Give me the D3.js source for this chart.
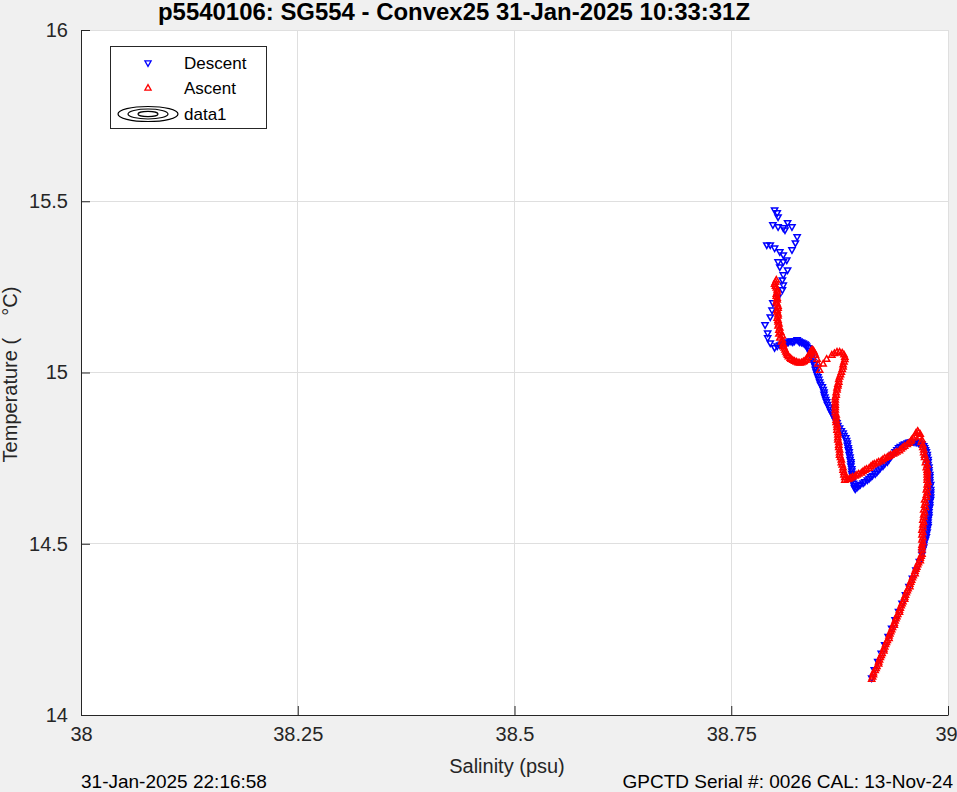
<!DOCTYPE html>
<html><head><meta charset="utf-8">
<script src="https://cdn.jsdelivr.net/npm/d3@7"></script>
<style>
body{margin:0;background:#f0f0f0;}
svg{display:block;font-family:"Liberation Sans",Arial,Helvetica,sans-serif;}
</style>
</head><body>
<svg id="chart" width="957" height="792"></svg>
<script>
// ---- data ----
const descentSal = [
38.800,38.803,38.804,38.798,38.804,38.810,38.815,38.820,38.812,38.826,38.824,38.820,
38.791,38.795,38.800,38.806,38.810,38.804,38.810,38.814,38.806,38.815,38.810,38.809,
38.810,38.809,38.804,38.798,38.797,38.795,38.789,38.792,38.792,38.795,38.800,38.806,
38.811,38.814,38.818,38.821,38.826,38.829,38.833,38.836,38.839,38.841,38.843,38.844,
38.847,38.848,38.850,38.852,38.855,38.857,38.858,38.860,38.863,38.865,38.869,38.872,
38.875,38.879,38.882,38.884,38.885,38.886,38.887,38.888,38.888,38.889,38.890,38.890,
38.892,38.893,38.897,38.902,38.907,38.911,38.916,38.920,38.925,38.930,38.934,38.939,
38.943,38.948,38.953,38.957,38.962,38.966,38.970,38.973,38.975,38.976,38.977,38.978,
38.978,38.979,38.979,38.979,38.980,38.980,38.979,38.979,38.978,38.978,38.977,38.977,
38.976,38.975,38.973,38.972,38.970,
38.803,38.808,38.812,38.816,38.820,38.823,38.828,38.831,38.835,38.837,
38.840,38.842,38.844,38.846,38.847,38.849,38.851,38.853,38.856,38.857,38.859,38.861,
38.864,38.867,38.870,38.873,38.877,38.880,38.883,38.884,38.885,38.886,38.887,38.888,
38.889,38.889,38.890,38.891,38.892,38.895,38.899,38.904,38.909,38.913,38.918,38.922,
38.927,38.932,38.936,38.941,38.945,38.950,38.955,38.960,38.964,38.968,38.972,38.974,
38.976,38.977,38.977,38.978,38.979,38.979,38.980,38.980,38.980,38.980,38.979,38.978,
38.978,38.977,38.977,38.976,38.975,38.974,38.972,38.971,
38.970,38.967,38.963,38.959,38.955,38.951,38.947,38.943,38.939,38.935,38.931,38.927,
38.923,38.919,38.915,38.912
];
const descentTemp = [
15.474,15.466,15.454,15.431,15.425,15.422,15.437,15.425,15.416,15.396,15.378,15.358,
15.372,15.372,15.363,15.352,15.343,15.323,15.323,15.328,15.308,15.299,15.285,15.270,
15.255,15.241,15.220,15.203,15.182,15.162,15.139,15.115,15.101,15.086,15.072,15.080,
15.083,15.086,15.092,15.089,15.095,15.089,15.086,15.080,15.072,15.057,15.045,15.031,
15.016,15.001,14.987,14.972,14.958,14.943,14.928,14.914,14.899,14.885,14.867,14.853,
14.838,14.823,14.809,14.794,14.780,14.768,14.753,14.739,14.727,14.712,14.698,14.683,
14.669,14.660,14.669,14.677,14.686,14.695,14.704,14.715,14.727,14.739,14.753,14.768,
14.780,14.788,14.794,14.797,14.797,14.794,14.791,14.780,14.768,14.753,14.739,14.724,
14.709,14.695,14.680,14.666,14.651,14.636,14.622,14.607,14.593,14.578,14.563,14.549,
14.534,14.520,14.505,14.490,14.476,
15.077,15.082,15.085,15.089,15.091,15.092,15.092,15.088,15.083,15.076,
15.065,15.051,15.038,15.023,15.009,14.994,14.980,14.965,14.950,14.936,14.921,14.906,
14.892,14.876,14.860,14.845,14.830,14.816,14.801,14.787,14.774,14.760,14.746,14.733,
14.719,14.705,14.690,14.676,14.664,14.664,14.673,14.681,14.690,14.699,14.709,14.721,
14.733,14.746,14.760,14.774,14.784,14.791,14.796,14.798,14.796,14.793,14.786,14.774,
14.760,14.746,14.731,14.716,14.702,14.687,14.673,14.658,14.644,14.629,14.614,14.600,
14.585,14.570,14.556,14.541,14.527,14.512,14.497,14.483,
14.468,14.448,14.423,14.399,14.375,14.351,14.326,14.302,14.278,14.253,14.229,14.205,
14.180,14.156,14.132,14.108
];
const ascentSal = [
38.912,38.914,38.916,38.918,38.920,38.922,38.924,38.926,38.928,38.930,38.932,38.934,
38.936,38.938,38.940,38.942,38.944,38.946,38.948,38.950,38.952,38.954,38.956,38.958,
38.960,38.962,38.964,38.966,38.968,38.970,
38.970,38.970,38.970,38.970,38.970,38.971,38.971,38.972,38.972,38.973,38.973,38.975,
38.975,38.976,38.976,38.976,38.976,38.976,38.975,38.973,38.972,38.971,38.970,38.968,
38.965,38.962,38.958,38.955,38.950,38.946,38.941,38.937,38.932,38.927,38.923,38.918,
38.913,38.909,38.904,38.900,38.895,38.890,38.886,38.881,38.880,38.879,38.878,38.877,
38.875,38.875,38.874,38.873,38.873,38.872,38.872,38.871,38.871,38.870,38.870,38.870,
38.871,38.872,38.873,38.874,38.875,38.877,38.879,38.880,38.881,38.878,38.872,38.866,
38.860,38.856,38.852,38.850,38.849,38.847,38.845,38.843,38.841,38.839,38.836,38.833,
38.829,38.825,38.821,38.818,38.815,38.813,38.811,38.810,38.809,38.809,38.807,38.806,
38.805,38.804,38.804,38.803,38.804,38.803,38.803,38.802,38.803,38.802,38.800,38.802,
38.913,38.914,38.917,38.920,38.921,38.923,38.926,38.927,38.929,38.932,38.933,38.935,
38.938,38.939,38.941,38.944,38.945,38.947,38.950,38.951,38.953,38.956,38.957,38.959,
38.962,38.963,38.965,38.968,38.969,
38.970,38.971,38.971,38.971,38.971,38.972,38.972,38.973,38.974,38.974,38.975,38.976,
38.976,38.977,38.976,38.976,38.975,38.974,38.973,38.972,38.971,38.969,38.967,
38.884,38.888,38.893,38.897,38.902,38.906,38.911,38.915,38.920,38.925,38.930,38.934,
38.939,38.944,38.948,38.953,38.957,38.960,38.963,38.966,
38.881,38.880,38.879,38.877,38.876,38.875,38.874,38.874,38.873,38.873,38.872,38.871,
38.871,38.870,38.870,38.870,38.870,38.871,38.872,38.873,38.874,38.876,38.878,38.879,
38.881,38.880,38.875,38.869,
38.846,38.844,38.842,38.840,38.837,38.834,38.831,38.827,38.823,38.819,38.816,38.814,
38.812,38.810,38.808,38.806,38.805,38.805,38.804,38.804,38.803,38.804,38.803,38.804,
38.802,38.803,38.802,38.803,38.801,38.801
];
const ascentTemp = [
14.105,14.118,14.130,14.142,14.155,14.168,14.180,14.193,14.206,14.218,14.231,14.243,
14.256,14.268,14.281,14.294,14.306,14.319,14.331,14.344,14.357,14.369,14.382,14.394,
14.407,14.420,14.432,14.445,14.458,14.470,
14.482,14.496,14.511,14.526,14.540,14.555,14.569,14.584,14.599,14.613,14.628,14.642,
14.657,14.672,14.686,14.701,14.715,14.730,14.745,14.759,14.774,14.788,14.803,14.820,
14.829,14.815,14.803,14.794,14.785,14.777,14.768,14.762,14.756,14.750,14.742,14.736,
14.730,14.721,14.715,14.707,14.701,14.695,14.689,14.686,14.701,14.715,14.730,14.745,
14.759,14.774,14.788,14.803,14.818,14.832,14.847,14.861,14.876,14.891,14.905,14.920,
14.934,14.949,14.961,14.972,14.987,15.001,15.016,15.031,15.045,15.057,15.060,15.051,
15.039,15.025,15.007,15.025,15.039,15.051,15.063,15.066,15.057,15.045,15.036,15.031,
15.028,15.031,15.036,15.042,15.051,15.060,15.072,15.083,15.095,15.107,15.118,15.130,
15.142,15.153,15.165,15.177,15.188,15.200,15.212,15.223,15.235,15.247,15.258,15.270,
14.111,14.124,14.136,14.149,14.161,14.174,14.187,14.199,14.212,14.224,14.237,14.249,
14.262,14.275,14.287,14.300,14.312,14.325,14.338,14.350,14.363,14.375,14.388,14.401,
14.413,14.426,14.439,14.451,14.464,
14.489,14.503,14.518,14.533,14.547,14.562,14.577,14.591,14.606,14.620,14.635,14.650,
14.664,14.679,14.693,14.708,14.722,14.737,14.752,14.766,14.781,14.796,14.812,
14.688,14.692,14.698,14.704,14.711,14.718,14.726,14.733,14.739,14.746,14.753,14.759,
14.765,14.772,14.781,14.790,14.799,14.809,14.823,14.824,
14.694,14.708,14.722,14.737,14.752,14.766,14.781,14.796,14.810,14.825,14.840,14.854,
14.869,14.883,14.898,14.912,14.927,14.941,14.955,14.966,14.980,14.994,15.009,15.023,
15.038,15.052,15.060,15.056,
15.057,15.066,15.062,15.052,15.040,15.033,15.029,15.029,15.033,15.039,15.046,15.055,
15.066,15.077,15.089,15.101,15.113,15.124,15.136,15.148,15.159,15.171,15.182,15.194,
15.206,15.217,15.229,15.241,15.252,15.264
];
const xTicks = [38, 38.25, 38.5, 38.75, 39];
const xTickLabels = ["38", "38.25", "38.5", "38.75", "39"];
const yTicks = [14, 14.5, 15, 15.5, 16];
const yTickLabels = ["14", "14.5", "15", "15.5", "16"];
const titleText = "p5540106: SG554 - Convex25 31-Jan-2025 10:33:31Z";
const xLabelText = "Salinity (psu)";
const yLabelText = "Temperature (    \u00B0C)";
const footLeftText = "31-Jan-2025 22:16:58";
const footRightText = "GPCTD Serial #: 0026 CAL: 13-Nov-24";
const legendNames = ["Descent", "Ascent", "data1"];

// ---- layout ----
const W = 957, H = 792;
const L = 81, R = 948, T = 30, B = 715;
const axisColor = "#262626", gridColor = "#dfdfdf";
const svg = d3.select("#chart");
svg.append("rect").attr("width", W).attr("height", H).attr("fill", "#f0f0f0");

const x = d3.scaleLinear().domain([38, 39]).range([L, R]);
const y = d3.scaleLinear().domain([14, 16]).range([B, T]);

svg.append("rect").attr("x", L).attr("y", T).attr("width", R - L).attr("height", B - T).attr("fill", "#fff");

// grid
const grid = svg.append("g");
grid.selectAll(".gx").data(xTicks).join("line")
  .attr("x1", d => x(d)).attr("x2", d => x(d)).attr("y1", T).attr("y2", B)
  .attr("stroke", gridColor).attr("stroke-width", 1).attr("shape-rendering", "crispEdges");
grid.selectAll(".gy").data(yTicks).join("line")
  .attr("x1", L).attr("x2", R).attr("y1", d => y(d)).attr("y2", d => y(d))
  .attr("stroke", gridColor).attr("stroke-width", 1).attr("shape-rendering", "crispEdges");

// data markers
svg.append("clipPath").attr("id", "clip").append("rect")
  .attr("x", L).attr("y", T).attr("width", R - L).attr("height", B - T);
const plot = svg.append("g").attr("clip-path", "url(#clip)");
const downTri = "M0,3.4L3.1,-2.1L-3.1,-2.1Z";
const upTri = "M0,-3.4L3.1,2.1L-3.1,2.1Z";
const descent = descentSal.map((s, i) => [s, descentTemp[i]]);
const ascent = ascentSal.map((s, i) => [s, ascentTemp[i]]);
plot.append("g").selectAll("path").data(descent).join("path")
  .attr("d", downTri).attr("transform", d => `translate(${x(d[0])},${y(d[1])})`)
  .attr("fill", "none").attr("stroke", "#0000ff").attr("stroke-width", 1.5);
plot.append("g").selectAll("path").data(ascent).join("path")
  .attr("d", upTri).attr("transform", d => `translate(${x(d[0])},${y(d[1])})`)
  .attr("fill", "none").attr("stroke", "#ff0000").attr("stroke-width", 1.5);

// axes
const fontTick = 20;
const xAxis = d3.axisBottom(x).tickValues(xTicks).tickFormat((d, i) => xTickLabels[i])
  .tickSize(-9).tickSizeOuter(0).tickPadding(12);
const yAxis = d3.axisLeft(y).tickValues(yTicks).tickFormat((d, i) => yTickLabels[i])
  .tickSize(-9).tickSizeOuter(0).tickPadding(13);
const gx = svg.append("g").attr("transform", `translate(0,${B})`).call(xAxis);
const gy = svg.append("g").attr("transform", `translate(${L},0)`).call(yAxis);
[gx, gy].forEach(g => {
  g.select(".domain").attr("stroke", axisColor).attr("stroke-width", 1);
  g.selectAll(".tick line").attr("stroke", axisColor);
  g.selectAll(".tick text").attr("fill", axisColor).attr("font-size", fontTick)
    .attr("font-family", '"Liberation Sans",Arial,sans-serif');
});
// keep the last x label inside the window
gx.selectAll(".tick text").filter((d, i) => i === xTicks.length - 1).attr("dx", -2);

// title & labels
svg.append("text").attr("x", 454).attr("y", 20).attr("text-anchor", "middle")
  .attr("font-size", 23).attr("font-weight", "bold").attr("fill", "#000")
  .attr("textLength", 592).attr("lengthAdjust", "spacingAndGlyphs").text(titleText);
svg.append("text").attr("x", 507).attr("y", 773).attr("text-anchor", "middle")
  .attr("font-size", 20).attr("fill", axisColor).text(xLabelText);
svg.append("text").attr("transform", `translate(17,${(T + B) / 2 + 2}) rotate(-90)`)
  .attr("text-anchor", "middle").attr("font-size", 20).attr("fill", axisColor)
  .style("white-space", "pre").text(yLabelText);
svg.append("text").attr("x", 81).attr("y", 788).attr("font-size", 19).attr("fill", "#000").text(footLeftText);
svg.append("text").attr("x", 953).attr("y", 788).attr("text-anchor", "end").attr("font-size", 19).attr("fill", "#000").text(footRightText);

// legend
const lg = svg.append("g");
lg.append("rect").attr("x", 110.5).attr("y", 46.5).attr("width", 156).attr("height", 82)
  .attr("fill", "#fff").attr("stroke", axisColor).attr("stroke-width", 1);
const rowY = [63, 88, 114];
lg.append("path").attr("d", downTri).attr("transform", `translate(148,${rowY[0]})`)
  .attr("fill", "none").attr("stroke", "#0000ff").attr("stroke-width", 1.3);
lg.append("path").attr("d", upTri).attr("transform", `translate(148,${rowY[1]})`)
  .attr("fill", "none").attr("stroke", "#ff0000").attr("stroke-width", 1.3);
[[30, 7.5], [20, 5], [10, 2.7]].forEach(([rx, ry]) => {
  lg.append("ellipse").attr("cx", 148).attr("cy", rowY[2]).attr("rx", rx).attr("ry", ry)
    .attr("fill", "none").attr("stroke", "#000").attr("stroke-width", 1.2);
});
legendNames.forEach((n, i) => {
  lg.append("text").attr("x", 184).attr("y", rowY[i]).attr("dy", "0.35em")
    .attr("font-size", 17).attr("fill", "#000").text(n);
});
</script>
</body></html>
